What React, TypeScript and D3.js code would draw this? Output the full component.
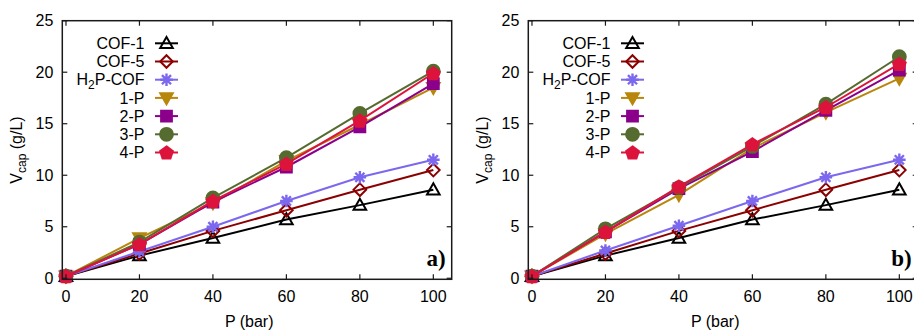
import React from "react";
import * as d3 from "d3";

const pressures = [0, 20, 40, 60, 80, 100];
const seriesNames = ["COF-1", "COF-5", "H2P-COF", "1-P", "2-P", "3-P", "4-P"];
const seriesColors = ["#000000", "#8b0000", "#7b68ee", "#b8860b", "#8b008b", "#556b2f", "#dc143c"];
const seriesMarkers = ["triUpOpen", "diamondOpen", "asterisk", "triDown", "square", "circle", "pentagon"];

// panel a)
const cof1A = [0.2, 2.2, 3.9, 5.7, 7.1, 8.6];
const cof5A = [0.2, 2.4, 4.6, 6.6, 8.6, 10.5];
const h2pA = [0.2, 2.6, 5.0, 7.5, 9.8, 11.5];
const p1A = [0.2, 3.9, 7.3, 11.4, 14.9, 18.5];
const p2A = [0.2, 3.3, 7.4, 10.8, 14.7, 18.9];
const p3A = [0.2, 3.5, 7.8, 11.7, 16.0, 20.1];
const p4A = [0.2, 3.3, 7.5, 11.1, 15.3, 19.9];

// panel b)
const cof1B = [0.2, 2.2, 3.9, 5.7, 7.1, 8.6];
const cof5B = [0.2, 2.4, 4.6, 6.6, 8.6, 10.5];
const h2pB = [0.2, 2.7, 5.1, 7.5, 9.8, 11.5];
const p1B = [0.2, 4.3, 8.1, 12.6, 16.1, 19.4];
const p2B = [0.2, 4.5, 8.7, 12.3, 16.3, 20.2];
const p3B = [0.2, 4.8, 8.8, 12.8, 16.9, 21.5];
const p4B = [0.2, 4.5, 8.9, 13.0, 16.6, 20.8];

const xTicks = [0, 20, 40, 60, 80, 100];
const yTicks = [0, 5, 10, 15, 20, 25];

const FONT = "'Liberation Sans', Arial, sans-serif";
const FS = 16;

function markerPath(kind: string): { d: string; fill: boolean } {
  const r = 6.3;
  switch (kind) {
    case "triUpOpen":
      return { d: `M0,${-r}L${r},${r * 0.75}L${-r},${r * 0.75}Z`, fill: false };
    case "diamondOpen":
      return { d: `M0,${-r}L${r},0L0,${r}L${-r},0Z`, fill: false };
    case "asterisk": {
      const a = r * 0.72;
      return {
        d: `M${-r},0L${r},0M0,${-r}L0,${r}M${-a},${-a}L${a},${a}M${-a},${a}L${a},${-a}`,
        fill: false,
      };
    }
    case "triDown":
      return { d: `M0,${r}L${r},${-r * 0.75}L${-r},${-r * 0.75}Z`, fill: true };
    case "square":
      return { d: `M${-5.4},${-5.4}H5.4V5.4H-5.4Z`, fill: true };
    case "circle":
      return { d: d3.symbol().type(d3.symbolCircle).size(Math.PI * 6.4 * 6.4)() as string, fill: true };
    case "pentagon": {
      const pts = d3.range(5).map((i) => {
        const ang = -Math.PI / 2 + (i * 2 * Math.PI) / 5;
        return [6.7 * Math.cos(ang), 6.7 * Math.sin(ang) + 0.6];
      });
      return { d: "M" + pts.map((p) => p.join(",")).join("L") + "Z", fill: true };
    }
  }
  return { d: "", fill: false };
}

function Marker({ kind, color, x, y }: { kind: string; color: string; x: number; y: number }) {
  const m = markerPath(kind);
  return (
    <path
      d={m.d}
      transform={`translate(${x},${y})`}
      fill={m.fill ? color : "none"}
      stroke={color}
      strokeWidth={kind === "asterisk" ? 2.4 : 2}
      strokeLinejoin="miter"
    />
  );
}

function Panel({ offset, data, tag }: { offset: number; data: number[][]; tag: string }) {
  const x = d3.scaleLinear().domain([-1, 105]).range([62.3 + offset, 451.7 + offset]);
  const y = d3.scaleLinear().domain([-0.1, 25]).range([279.3, 20.7]);
  const line = d3
    .line<number>()
    .x((_, i) => x(pressures[i]))
    .y((v) => y(v));
  const [x0, x1] = x.range();
  const [yb, yt] = y.range();
  const tl = 5;
  const legX = 144.5 + offset;
  const legY0 = 43.3;
  const legStep = 18.2;
  return (
    <g>
      {data.map((vals, si) => (
        <g key={si}>
          <path d={line(vals) as string} fill="none" stroke={seriesColors[si]} strokeWidth={2} />
          {vals.map((v, i) => (
            <Marker key={i} kind={seriesMarkers[si]} color={seriesColors[si]} x={x(pressures[i])} y={y(v)} />
          ))}
        </g>
      ))}
      <rect x={x0} y={yt} width={x1 - x0} height={yb - yt} fill="none" stroke="#1a1a1a" strokeWidth={1.5} />
      {xTicks.map((t) => (
        <g key={"x" + t}>
          <line x1={x(t)} x2={x(t)} y1={yb} y2={yb - tl} stroke="#1a1a1a" strokeWidth={1.2} />
          <line x1={x(t)} x2={x(t)} y1={yt} y2={yt + tl} stroke="#1a1a1a" strokeWidth={1.2} />
          <text x={x(t)} y={yb + 23} textAnchor="middle" fontFamily={FONT} fontSize={FS} fill="#000">
            {t}
          </text>
        </g>
      ))}
      {yTicks.map((t) => (
        <g key={"y" + t}>
          <line x1={x0} x2={x0 + tl} y1={y(t)} y2={y(t)} stroke="#1a1a1a" strokeWidth={1.2} />
          <line x1={x1} x2={x1 - tl} y1={y(t)} y2={y(t)} stroke="#1a1a1a" strokeWidth={1.2} />
          <text x={x0 - 9} y={y(t) + 5.6} textAnchor="end" fontFamily={FONT} fontSize={FS} fill="#000">
            {t}
          </text>
        </g>
      ))}
      <text x={x0 + (x1 - x0) * 0.48} y={327} textAnchor="middle" fontFamily={FONT} fontSize={FS}>
        P (bar)
      </text>
      <text
        transform={`translate(${offset + 22},150) rotate(-90)`}
        textAnchor="middle"
        fontFamily={FONT}
        fontSize={FS}
      >
        V<tspan fontSize={12} dy={4}>cap</tspan>
        <tspan dy={-4}> (g/L)</tspan>
      </text>
      {seriesNames.map((name, si) => {
        const ly = legY0 + si * legStep;
        return (
          <g key={"l" + si}>
            <text x={legX} y={ly + 5.6} textAnchor="end" fontFamily={FONT} fontSize={FS}>
              {name === "H2P-COF" ? (
                <>
                  H<tspan fontSize={12} dy={4}>2</tspan>
                  <tspan dy={-4}>P-COF</tspan>
                </>
              ) : (
                name
              )}
            </text>
            <line x1={legX + 10.5} x2={legX + 33.5} y1={ly} y2={ly} stroke={seriesColors[si]} strokeWidth={2} />
            <Marker kind={seriesMarkers[si]} color={seriesColors[si]} x={legX + 22} y={ly} />
          </g>
        );
      })}
      <text
        x={x1 - 6}
        y={266}
        textAnchor="end"
        fontFamily="'Liberation Serif', 'DejaVu Serif', serif"
        fontWeight="bold"
        fontSize={23}
      >
        {tag}
      </text>
    </g>
  );
}

export default function App() {
  const dataA = [cof1A, cof5A, h2pA, p1A, p2A, p3A, p4A];
  const dataB = [cof1B, cof5B, h2pB, p1B, p2B, p3B, p4B];
  return (
    <svg width={914} height={330} style={{ position: "absolute", left: 0, top: 0, background: "#fff" }}>
      <Panel offset={0} data={dataA} tag="a)" />
      <Panel offset={466} data={dataB} tag="b)" />
    </svg>
  );
}
